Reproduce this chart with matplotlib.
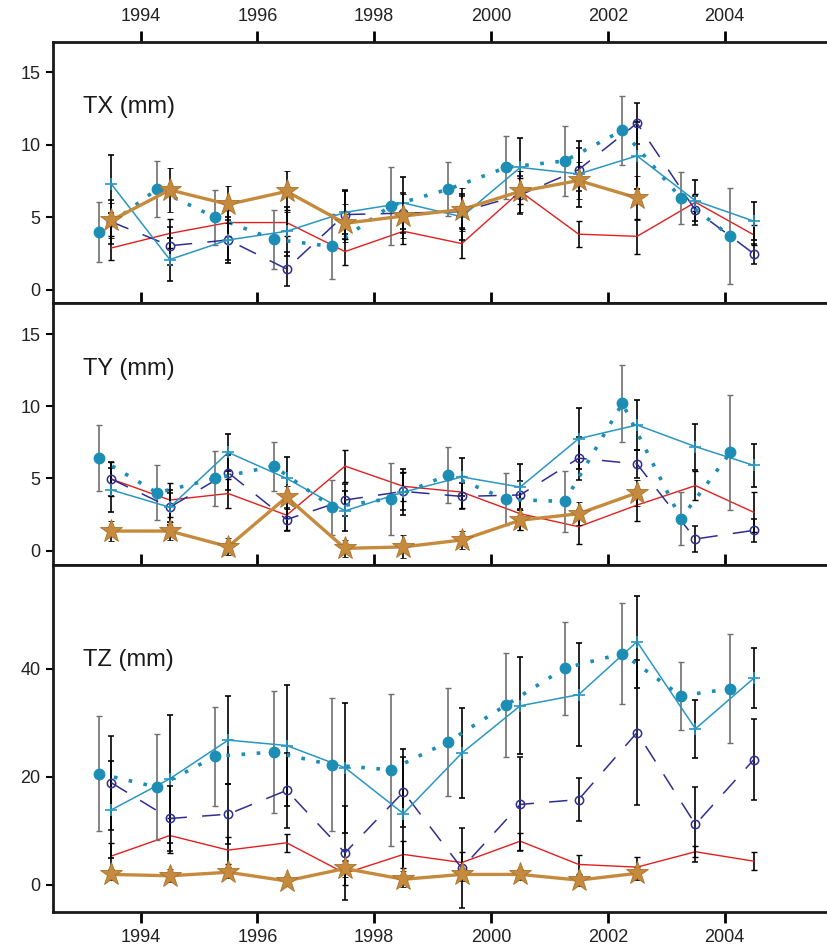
import matplotlib.pyplot as plt

# x positions
x_dots = [1993.29, 1994.28, 1995.28, 1996.28, 1997.28, 1998.28,
          1999.27, 2000.26, 2001.26, 2002.25, 2003.25, 2004.1]
x_mid = [1993.5, 1994.5, 1995.5, 1996.5, 1997.5, 1998.5,
         1999.5, 2000.5, 2001.5, 2002.5, 2003.5, 2004.5]
x_star = x_mid[:10]

# TX
tx_dots = [4.0, 6.95, 5.0, 3.5, 3.0, 5.8, 6.95, 8.45, 8.9, 11.0, 6.35, 3.7]
tx_dots_err = [2.1, 1.95, 1.9, 2.05, 2.25, 2.7, 1.85, 2.2, 2.4, 2.35, 1.8, 3.3]
tx_plus = [7.3, 2.1, 3.45, 4.05, 5.35, 6.0, 5.05, 8.45, 8.0, 9.25, 6.15, 4.75]
tx_plus_err = [2.0, 1.5, 1.6, 1.7, 1.5, 1.8, 1.6, 2.0, 2.3, 2.3, 1.4, 1.3]
tx_circ = [4.7, 3.05, 3.45, 1.45, 5.2, 5.3, 5.4, 6.55, 8.3, 11.5, 5.5, 2.5]
tx_circ_err = [1.5, 1.3, 1.4, 1.2, 1.7, 1.4, 1.1, 1.3, 1.5, 1.4, 1.0, 0.7]
tx_red = [2.9, 3.9, 4.65, 4.65, 2.65, 4.05, 3.2, 6.8, 3.85, 3.7, 6.05, 3.8]
tx_red_err = [0.8, 1.0, 0.9, 0.9, 0.9, 0.9, 1.0, 0.9, 0.9, 1.2, 0.6, 0.7]
tx_star = [4.8, 6.9, 5.9, 6.8, 4.6, 5.1, 5.55, 6.8, 7.55, 6.35]
tx_star_err = [1.2, 1.5, 1.3, 1.4, 1.3, 1.5, 1.5, 1.4, 1.3, 1.5]

# TY
ty_dots = [6.4, 4.0, 5.0, 5.85, 3.0, 3.6, 5.25, 3.55, 3.4, 10.2, 2.2, 6.8]
ty_dots_err = [2.3, 1.9, 1.9, 1.7, 1.9, 2.5, 1.95, 1.8, 2.1, 2.65, 1.85, 4.0]
ty_plus = [4.2, 3.0, 6.8, 5.0, 2.75, 4.05, 5.1, 4.4, 7.75, 8.7, 7.2, 5.9]
ty_plus_err = [1.5, 1.2, 1.3, 1.5, 1.4, 1.6, 1.3, 1.6, 2.1, 1.7, 1.6, 1.5]
ty_circ = [4.95, 3.0, 5.4, 2.15, 3.5, 4.1, 3.75, 3.85, 6.4, 6.0, 0.8, 1.4]
ty_circ_err = [1.2, 1.0, 1.2, 0.8, 1.1, 1.3, 0.9, 1.0, 1.5, 1.0, 0.9, 0.8]
ty_red = [4.95, 3.5, 3.95, 2.45, 5.85, 4.45, 4.05, 2.55, 1.65, 3.15, 4.5, 2.65]
ty_red_err = [1.2, 1.2, 1.0, 1.0, 1.1, 1.0, 1.1, 1.1, 1.2, 1.1, 1.0, 1.4]
ty_star = [1.35, 1.35, 0.27, 3.7, 0.15, 0.25, 0.73, 2.1, 2.55, 4.0]
ty_star_err = [0.7, 0.6, 0.6, 0.8, 0.6, 0.8, 0.6, 0.7, 0.8, 0.9]

# TZ
tz_dots = [20.6, 18.1, 23.8, 24.6, 22.2, 21.3, 26.5, 33.3, 40.1, 42.8, 35.0, 36.3]
tz_dots_err = [10.7, 9.8, 9.1, 11.3, 12.3, 14.1, 10.0, 9.7, 8.6, 9.4, 6.3, 10.1]
tz_plus = [13.9, 19.65, 26.8, 25.8, 21.7, 13.2, 24.4, 33.15, 35.2, 45.0, 28.9, 38.25]
tz_plus_err = [9.0, 11.8, 8.2, 11.2, 12.0, 12.0, 8.3, 9.0, 9.5, 8.5, 5.4, 5.5]
tz_circ = [18.9, 12.3, 13.1, 17.5, 5.95, 17.2, 3.1, 14.9, 15.8, 28.2, 11.2, 23.2]
tz_circ_err = [8.7, 6.0, 5.5, 7.0, 8.7, 6.5, 7.4, 8.7, 4.0, 13.4, 7.0, 7.5]
tz_red = [5.35, 9.15, 6.45, 7.8, 2.15, 5.65, 4.15, 8.1, 3.8, 3.3, 6.15, 4.4]
tz_red_err = [2.5, 3.3, 2.5, 1.7, 2.2, 2.5, 2.0, 1.6, 1.7, 1.8, 1.0, 1.7]
tz_star = [1.95, 1.7, 2.35, 0.75, 3.05, 1.05, 1.95, 1.95, 0.9, 2.15]
tz_star_err = [1.0, 1.2, 1.0, 1.0, 1.5, 1.5, 1.2, 1.0, 1.0, 1.2]

panels = [
    ("TX (mm)", (-0.9, 17.1), [0, 5, 10, 15],
     tx_dots, tx_dots_err, tx_plus, tx_plus_err, tx_circ, tx_circ_err,
     tx_red, tx_red_err, tx_star, tx_star_err),
    ("TY (mm)", (-1.0, 17.15), [0, 5, 10, 15],
     ty_dots, ty_dots_err, ty_plus, ty_plus_err, ty_circ, ty_circ_err,
     ty_red, ty_red_err, ty_star, ty_star_err),
    ("TZ (mm)", (-5.0, 59.2), [0, 20, 40],
     tz_dots, tz_dots_err, tz_plus, tz_plus_err, tz_circ, tz_circ_err,
     tz_red, tz_red_err, tz_star, tz_star_err),
]

TEAL = "#1c8db4"
TEAL2 = "#2a96c2"
NAVY = "#2e2e92"
RED = "#e41e1e"
GOLD = "#c68a3c"

plt.rcParams['font.family'] = ['Liberation Sans', 'DejaVu Sans']

fig = plt.figure(figsize=(8.28, 9.5), dpi=100)
boxes = [(0.681, 0.2748), (0.4053, 0.2757), (0.04, 0.3653)]
label_y = [0.75, 0.75, 0.726]

for i, (label, ylim, yt, d, de, p, pe, c, ce, r, re, s, se) in enumerate(panels):
    bottom, height = boxes[i]
    ax = fig.add_axes([0.064, bottom, 0.936, height])

    eb = dict(capsize=2.2, capthick=1.0, elinewidth=1.2)
    ax.errorbar(x_mid, r, yerr=re, color=RED, lw=1.0, ecolor='black', zorder=2, **eb)
    ax.errorbar(x_mid, c, yerr=ce, color=NAVY, lw=1.1, ls=(0, (12, 10)),
                marker='o', ms=6, mfc='none', mec=NAVY, mew=1.1,
                ecolor='black', zorder=3, **eb)
    ax.errorbar(x_mid, p, yerr=pe, color=TEAL2, lw=1.1, marker='+', ms=9, mew=1.2,
                ecolor='black', zorder=3, **eb)
    ax.errorbar(x_dots, d, yerr=de, color=TEAL, lw=2.6, ls=(0, (1, 3.2)),
                marker='o', ms=7.5, mec=TEAL, ecolor='#707070', zorder=3, **eb)
    ax.errorbar(x_star, s, yerr=se, color=GOLD, lw=2.4, marker='*', ms=17,
                mec='#a8722e', mew=0.6, ecolor='black', zorder=4, **eb)

    ax.set_xlim(1992.5, 2005.77)
    ax.set_ylim(*ylim)
    ax.set_yticks(yt)
    ax.set_xticks([1994, 1996, 1998, 2000, 2002, 2004])
    ax.spines['right'].set_visible(False)
    for sp in ('left', 'top', 'bottom'):
        ax.spines[sp].set_linewidth(2.0)
        ax.spines[sp].set_color('#1a1a1a')
    ax.tick_params(axis='y', direction='out', length=5, width=1.5,
                   labelsize=13, labelcolor='#222222', pad=4)
    ax.tick_params(axis='x', direction='out', length=8, width=2, top=True, bottom=True,
                   labelsize=13, labelcolor='#222222',
                   labeltop=(i == 0), labelbottom=(i == 2), pad=4)
    ax.text(0.039, label_y[i], label, transform=ax.transAxes,
            fontsize=17, color='#1a1a1a', va='center', ha='left')

fig.savefig("out.png", dpi=100)
